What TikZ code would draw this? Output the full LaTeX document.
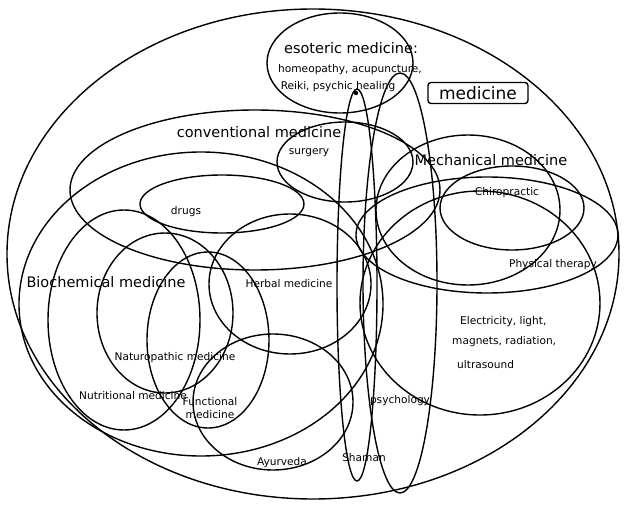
\documentclass[tikz,border=0pt]{standalone}
\usepackage{fontspec}
\setmainfont{DejaVu Sans}
\usetikzlibrary{positioning,shapes.geometric}
\tikzset{
    region/.style = {
        draw,
        shape=ellipse,
        line width=1.4pt,
        inner sep=0pt,
        },
    oval size/.style 2 args = {
        minimum width=#1pt,
        minimum height=#2pt,
        },
    big label/.style = {
        font=\fontsize{14.5}{17}\selectfont,
        inner sep=0pt,
        },
    small label/.style = {
        font=\fontsize{10.6}{12.5}\selectfont,
        inner sep=0pt,
        },
    title box/.style = {
        draw,
        rounded corners=3pt,
        line width=1.4pt,
        minimum width=100pt,
        minimum height=21pt,
        font=\fontsize{17}{20}\selectfont,
        },
}
\begin{document}
\begin{tikzpicture}[x=1pt, y=-1pt]
    \useasboundingbox (0,0) rectangle (624,505);

    % the whole field and the big groups
    \node [region, oval size={612}{490}] (medicine) at (313,254) {};
    \node [region, oval size={146}{100}] (esoteric) at (340,63) {};
    \node [region, oval size={370}{160}] (conventional) at (255,190) {};
    \node [region, oval size={364}{304}] (biochemical) at (201,304) {};
    \node [region, oval size={184}{150}] (mechanical) at (468,210) {};

    % subsets
    \node [region, oval size={136}{80}] (surgery) at (345,162) {};
    \node [region, oval size={164}{58}] (drugs) at (222,204) {};
    \node [region, oval size={152}{220}] (nutritional) at (124,320) {};
    \node [region, oval size={136}{160}] (naturopathic) at (165,313) {};
    \node [region, oval size={122}{176}] (functional) at (208,340) {};
    \node [region, oval size={162}{140}] (herbal) at (290,284) {};
    \node [region, oval size={160}{136}] (ayurveda) at (273,402) {};
    \node [region, oval size={40}{392}] (shaman) at (357,285) {};
    \node [region, oval size={74}{420}] (psychology) at (400,283) {};
    \node [region, oval size={144}{84}] (chiropractic) at (512,208) {};
    \node [region, oval size={262}{116}] (physical) at (487,235) {};
    \node [region, oval size={240}{224}] (electricity) at (480,303) {};
    \node [circle, fill, inner sep=0pt, minimum size=4.5pt] (shaman top) at (356,93) {};

    % labels
    \node [title box] (title) at (478,93) {medicine};
    \node [big label] (esoteric text) at (351,48) {esoteric medicine:};
    \node [small label] (esoteric list a) at (350,70) {homeopathy, acupuncture,};
    \node [small label] (esoteric list b) at (338,87) {Reiki, psychic healing};
    \node [big label] (conventional text) at (259,132) {conventional medicine};
    \node [small label] (surgery text) at (309,153) {surgery};
    \node [small label] (drugs text) at (186,212) {drugs};
    \node [big label] (mechanical text) at (491,160) {Mechanical medicine};
    \node [small label] (chiropractic text) at (507,193) {Chiropractic};
    \node [small label] (physical text) at (553,265) {Physical therapy};
    \node [big label] (biochemical text) at (106,282) {Biochemical medicine};
    \node [small label] (herbal text) at (289,284) {Herbal medicine};
    \node [small label, anchor=west] (electricity a) at (460,322) {Electricity, light,};
    \node [small label, anchor=west] (electricity b) at (452,342) {magnets, radiation,};
    \node [small label, anchor=west] (electricity c) at (457,365) {ultrasound};
    \node [small label] (naturopathic text) at (175,358) {Naturopathic medicine};
    \node [small label] (nutritional text) at (133,396) {Nutritional medicine};
    \node [small label, align=center] (functional text) at (210,408) {Functional\\medicine};
    \node [small label] (psychology text) at (400,401) {psychology};
    \node [small label] (shaman text) at (364,458) {Shaman};
    \node [small label] (ayurveda text) at (282,463) {Ayurveda};
\end{tikzpicture}
\end{document}
